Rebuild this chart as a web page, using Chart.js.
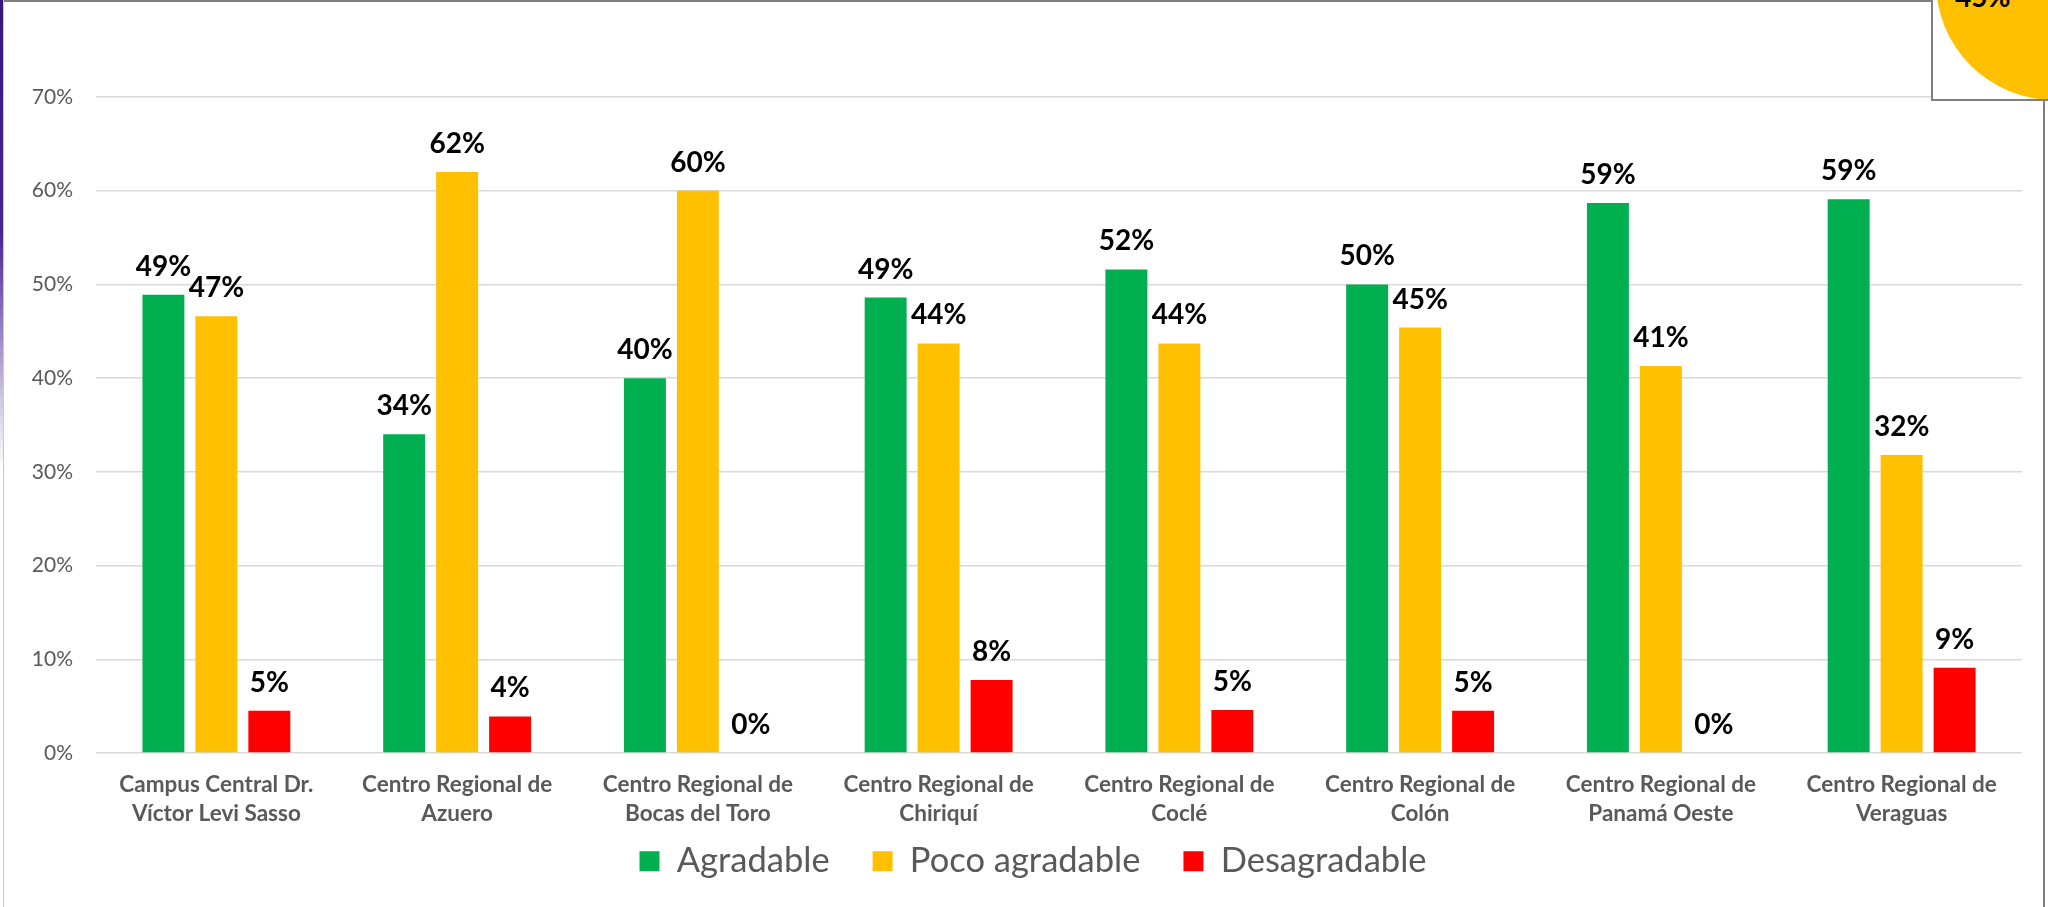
<!DOCTYPE html>
<html>
<head>
<meta charset="utf-8">
<script src="https://cdn.jsdelivr.net/npm/chart.js@4.4.1/dist/chart.umd.min.js"></script>
<style>
  html, body { margin: 0; padding: 0; background: #ffffff; width: 2048px; height: 907px; overflow: hidden; }
  #wrap { position: absolute; left: 0; top: 0; width: 2048px; height: 907px; background: #ffffff; }
  #c { position: absolute; left: 0; top: 0; }
  .topline { position: absolute; left: 0; top: 0; width: 1932px; height: 2px; background: #7f7f7f; }
  .leftpurple { position: absolute; left: 0; top: 0; width: 3px; height: 470px;
    background: linear-gradient(to bottom, #3a1678 0%, #4a2590 50%, rgba(120,90,180,0.35) 85%, rgba(255,255,255,0) 100%); }
  .leftgray { position: absolute; left: 3px; top: 0; width: 1px; height: 907px; background: #c8c8c8; }
  .corner { position: absolute; left: 1931px; top: 0; width: 117px; height: 99px;
    border-left: 2px solid #7f7f7f; border-bottom: 2px solid #7f7f7f; overflow: hidden; background: #fff; }
  .circle { position: absolute; left: 3px; top: -136px; width: 236px; height: 236px; border-radius: 50%; background: #FFC000; }
  .cornertext { position: absolute; left: 22px; top: -18px; font: bold 28px Lato, sans-serif; line-height: 1; color: #000; }
  .rightline { position: absolute; left: 2043px; top: 100px; width: 2px; height: 807px; background: #7f7f7f; }
</style>
</head>
<body>
<div id="wrap">
  <canvas id="c" width="2048" height="907"></canvas>
  <div class="topline"></div>
  <div class="leftpurple"></div>
  <div class="leftgray"></div>
  <div class="corner"><div class="circle"></div><div class="cornertext">45%</div></div>
  <div class="rightline"></div>
</div>
<script>
// ---- data ----
const categories = [
  ["Campus Central Dr.", "Víctor Levi Sasso"],
  ["Centro Regional de", "Azuero"],
  ["Centro Regional de", "Bocas del Toro"],
  ["Centro Regional de", "Chiriquí"],
  ["Centro Regional de", "Coclé"],
  ["Centro Regional de", "Colón"],
  ["Centro Regional de", "Panamá Oeste"],
  ["Centro Regional de", "Veraguas"]
];
const seriesNames = ["Agradable", "Poco agradable", "Desagradable"];
const agradable     = [48.9, 34.0, 40.0, 48.6, 51.6, 50.0, 58.7, 59.1];
const pocoAgradable = [46.6, 62.0, 60.0, 43.7, 43.7, 45.4, 41.3, 31.8];
const desagradable  = [4.5, 3.9, 0.0, 7.8, 4.6, 4.5, 0.0, 9.1];
const yTickValues   = [0, 10, 20, 30, 40, 50, 60, 70];
const seriesColors  = ["#00B050", "#FFC000", "#FF0000"];

// value labels above each bar
const valueLabels = {
  id: 'valueLabels',
  afterDatasetsDraw(chart) {
    const ctx = chart.ctx;
    ctx.save();
    ctx.font = 'bold 28px Lato, sans-serif';
    ctx.fillStyle = '#000000';
    ctx.textAlign = 'center';
    ctx.textBaseline = 'alphabetic';
    chart.data.datasets.forEach((ds, di) => {
      const meta = chart.getDatasetMeta(di);
      meta.data.forEach((bar, i) => {
        ctx.fillText(Math.round(ds.data[i]) + '%', bar.x, bar.y - 19);
      });
    });
    ctx.restore();
  }
};

// nudge the legend row into place (it sits close under the two-line axis labels)
const legendPlacement = {
  id: 'legendPlacement',
  afterLayout(chart) {
    const lg = chart.legend;
    if (!lg) return;
    const dx = 22, dy = -32;
    lg.left += dx; lg.right += dx;
    lg.top += dy;
    lg.height = 110;
    lg.bottom = lg.top + lg.height;
  }
};

const ctx = document.getElementById('c').getContext('2d');
new Chart(ctx, {
  type: 'bar',
  data: {
    labels: categories,
    datasets: [
      { label: seriesNames[0], data: agradable, backgroundColor: seriesColors[0] },
      { label: seriesNames[1], data: pocoAgradable, backgroundColor: seriesColors[1] },
      { label: seriesNames[2], data: desagradable, backgroundColor: seriesColors[2] }
    ]
  },
  options: {
    responsive: false,
    animation: false,
    devicePixelRatio: 1,
    datasets: { bar: { categoryPercentage: 0.66, barPercentage: 0.792 } },
    layout: { padding: { left: 0, right: 26, top: 97, bottom: 14 } },
    plugins: {
      tooltip: { enabled: false },
      legend: {
        position: 'bottom',
        maxHeight: 60,
        labels: {
          boxWidth: 20, boxHeight: 20, padding: 43,
          color: '#595959',
          font: { family: 'Lato, sans-serif', size: 34.5 }
        }
      }
    },
    scales: {
      x: {
        grid: { display: false, drawTicks: false },
        border: { display: false },
        ticks: {
          color: '#595959',
          font: { family: 'Lato, sans-serif', size: 22.5, weight: 'bold', lineHeight: 1.3 },
          padding: 17, maxRotation: 0, minRotation: 0, autoSkip: false
        },
        afterFit(scale) { scale.height = 80; }
      },
      y: {
        min: yTickValues[0],
        max: yTickValues[yTickValues.length - 1],
        grid: { color: '#D9D9D9', lineWidth: 1.5, drawTicks: false },
        border: { display: false },
        ticks: {
          stepSize: yTickValues[1] - yTickValues[0],
          color: '#595959',
          font: { family: 'Lato, sans-serif', size: 21 },
          padding: 23,
          callback: v => v + '%'
        },
        afterFit(scale) { scale.width = 96; }
      }
    }
  },
  plugins: [valueLabels, legendPlacement]
});
</script>
</body>
</html>
